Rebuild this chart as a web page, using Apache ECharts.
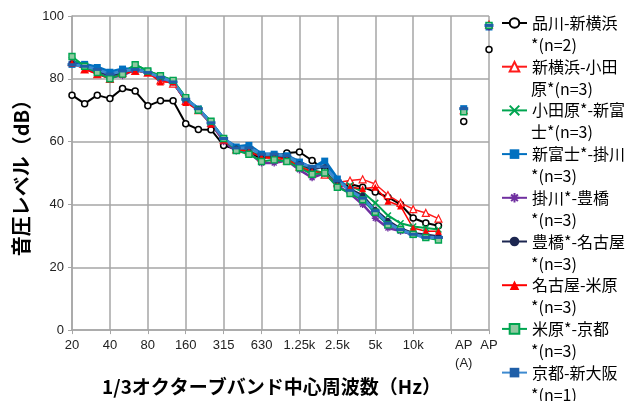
<!DOCTYPE html>
<html><head><meta charset="utf-8">
<script src="https://cdn.jsdelivr.net/npm/echarts@6/dist/echarts.min.js"></script>
<style>html,body{margin:0;padding:0;background:#fff}#c{width:640px;height:401px}</style>
</head><body><div id="c"></div>
<script>
// 1/3 octave band centre frequencies (category axis), then gap, AP(A), gap, AP
const bands = ['20','25','31.5','40','50','63','80','100','125','160','200','250','315','400','500','630','800','1k','1.25k','1.6k','2k','2.5k','3.15k','4k','5k','6.3k','8k','10k','12.5k','16k'];
const extraCats = ['gap1', 'AP\n(A)', 'gap2', 'AP'];
const shownLabels = ['20','40','80','160','315','630','1.25k','2.5k','5k','10k','AP\n(A)','AP'];

// legend labels as wrapped in the original (line 1 / line 2)
const legendLabels = ['品川-新横浜\n*(n=2)','新横浜-小田\n原*(n=3)','小田原*-新富\n士*(n=3)','新富士*-掛川\n*(n=3)','掛川*-豊橋\n*(n=3)','豊橋*-名古屋\n*(n=3)','名古屋-米原\n*(n=3)','米原*-京都\n*(n=3)','京都-新大阪\n*(n=1)'];

const s1 = [74.8,72.1,74.8,73.7,76.9,76.1,71.4,73.0,73.0,65.7,63.9,63.8,58.8,57.5,56.2,54.8,55.2,56.4,56.7,54.0,51.0,45.7,46.5,45.5,44.0,42.3,40.0,35.7,34.1,33.2];
const s2 = [85.5,83.0,81.5,80.0,82.0,82.5,82.0,79.5,78.5,73.0,70.0,66.0,60.5,57.5,57.0,55.0,54.5,54.0,52.0,50.0,49.5,47.0,47.6,48.0,46.5,43.0,40.5,38.5,37.3,35.5];
const s3 = [86.0,84.0,82.0,80.5,82.0,84.5,82.5,81.0,79.5,74.0,70.5,66.5,61.0,58.0,57.0,55.5,55.0,55.0,52.5,51.0,50.0,47.0,46.0,44.0,40.5,36.5,34.0,33.0,32.5,32.0];
const s4 = [84.6,84.6,83.6,82.1,83.1,83.0,82.1,80.5,79.0,73.5,70.4,65.9,60.8,58.3,58.8,56.0,56.0,55.5,53.5,51.5,53.8,48.1,44.6,42.0,37.5,34.0,31.9,30.4,29.9,29.1];
const s5 = [85.0,83.5,82.0,80.5,81.0,83.0,82.0,80.0,79.0,73.0,70.0,66.0,60.0,57.0,56.5,53.2,53.2,54.0,51.0,48.5,50.0,46.0,43.5,40.0,35.6,32.5,31.5,30.5,30.0,29.5];
const s6 = [85.0,84.0,82.5,81.0,82.0,83.0,82.0,80.5,79.0,73.5,70.5,66.0,61.0,58.0,57.0,55.0,55.0,55.0,53.0,51.0,52.0,47.0,45.0,43.0,38.5,35.0,32.5,31.0,30.5,30.0];
const s7 = [85.0,83.0,81.5,80.0,81.5,82.5,82.0,79.0,79.0,72.5,70.0,65.5,60.5,57.5,57.0,55.0,55.0,54.5,52.0,50.5,50.0,46.0,45.5,45.0,45.5,41.0,39.5,32.5,31.5,31.5];
const s8 = [87.1,84.0,82.0,80.0,81.5,84.5,82.5,81.0,79.5,74.0,70.0,66.5,61.0,57.2,56.0,53.7,54.2,53.7,51.7,49.6,50.0,45.5,43.5,41.5,37.5,33.5,32.0,30.5,29.5,28.7];
const s9 = [84.5,84.0,83.0,81.5,82.5,83.0,82.0,80.5,79.0,73.5,70.5,66.0,61.0,58.0,58.0,56.0,56.0,55.5,53.0,52.0,52.0,47.5,44.5,42.0,38.0,34.0,32.0,30.5,29.5,29.5];
const apA = [66.4,70.0,69.5,70.5,70.0,70.0,70.0,69.5,70.5];
const ap  = [89.3,97.3,97.0,96.5,96.5,96.5,97.0,97.0,97.0];
const yTicks = [0,20,40,60,80,100];

const allVals = [s1,s2,s3,s4,s5,s6,s7,s8,s9];
const categories = bands.concat(extraCats);

const styles = [
  {color:'#000000', width:2, symbol:'circle', size:6, fill:'#ffffff', border:'#000000', bw:1.5},
  {color:'#ff1a1a', width:1.5, symbol:'triangle', size:7, fill:'#ffffff', border:'#ff1a1a', bw:1.2},
  {color:'#00a550', width:2, symbol:'path://M0,0L10,10M10,0L0,10', size:6, fill:'none', border:'#00a550', bw:1.5},
  {color:'#0070c0', width:3.5, symbol:'rect', size:7, fill:'#0070c0', border:'#0070c0', bw:0},
  {color:'#7030a0', width:2.5, symbol:'path://M5,0L5,10M0,5L10,5M1.5,1.5L8.5,8.5M8.5,1.5L1.5,8.5', size:7, fill:'none', border:'#7030a0', bw:1.4},
  {color:'#1c2650', width:1.5, symbol:'circle', size:5, fill:'#1c2650', border:'#1c2650', bw:0},
  {color:'#ff0000', width:1.5, symbol:'triangle', size:7, fill:'#ff0000', border:'#ff0000', bw:0},
  {color:'#00a550', width:2, symbol:'rect', size:6, fill:'#8fc9a0', border:'#00a550', bw:1.4},
  {color:'#3d8ad0', width:3, symbol:'rect', size:[9,3], fill:'#1f5fa8', border:'#1f5fa8', bw:0}
];

const series = allVals.map((v, i) => {
  const st = styles[i];
  const data = v.concat(['-', apA[i], '-', ap[i]]);
  return {
    name: legendLabels[i],
    type: 'line',
    data: data,
    symbol: st.symbol,
    symbolSize: st.size,
    showAllSymbol: true,
    connectNulls: false,
    lineStyle: {color: st.color, width: st.width},
    itemStyle: {color: st.fill, borderColor: st.border, borderWidth: st.bw},
    emphasis: {disabled: true},
    animation: false
  };
});

const legendTop = 23, legendPitch = 43.7, legendTextX = 531;
const legends = legendLabels.map((name, i) => ({
  orient: 'vertical',
  left: 501,
  top: legendTop + i * legendPitch - 11,
  padding: 0,
  itemWidth: 25, itemHeight: 12,
  formatter: (n) => n.split('\n')[0],
  textStyle: {fontFamily: 'Noto Sans CJK JP', fontSize: 16, color: '#000', lineHeight: 22},
  data: [name]
}));
const secondLines = legendLabels.map((name, i) => ({
  type: 'text',
  x: legendTextX,
  y: legendTop + i * legendPitch + 22,
  silent: true,
  style: {text: name.split('\n')[1], fontFamily: 'Noto Sans CJK JP', fontSize: 16, fill: '#000', verticalAlign: 'middle', align: 'left'}
}));

const everyThird = (idx) => idx % 3 === 0;

const chart = echarts.init(document.getElementById('c'), null, {renderer: 'canvas'});
chart.setOption({
  backgroundColor: '#ffffff',
  animation: false,
  grid: {left: 72, right: 151, top: 16, bottom: 56, containLabel: false},
  xAxis: {
    type: 'category',
    data: categories,
    boundaryGap: false,
    name: '1/3オクターブバンド中心周波数（Hz）',
    nameLocation: 'middle',
    nameGap: 42,
    nameTextStyle: {fontFamily: 'Noto Sans CJK JP', fontWeight: 'bold', fontSize: 19, color: '#000', padding: [0, 18, 0, 0]},
    axisLine: {lineStyle: {color: '#a6a6a6', width: 1.5}},
    axisTick: {show: true, length: 4, interval: everyThird, lineStyle: {color: '#a6a6a6'}},
    splitLine: {show: true, interval: everyThird, lineStyle: {color: '#a6a6a6', width: 1.5}},
    axisLabel: {
      interval: (idx, val) => shownLabels.indexOf(val) >= 0,
      color: '#222', fontFamily: 'Liberation Sans, Arial, sans-serif', fontSize: 13, margin: 6, lineHeight: 18
    }
  },
  yAxis: {
    type: 'value',
    min: 0, max: 100, interval: 20,
    name: '音圧レベル（dB）',
    nameLocation: 'middle',
    nameGap: 37,
    nameRotate: 90,
    nameTextStyle: {fontFamily: 'Noto Sans CJK JP', fontWeight: 'bold', fontSize: 20, color: '#000'},
    axisLine: {show: true, lineStyle: {color: '#a6a6a6', width: 1.5}},
    axisTick: {show: true, length: 4, lineStyle: {color: '#a6a6a6'}},
    splitLine: {show: true, lineStyle: {color: '#a6a6a6', width: 1.5}},
    axisLabel: {color: '#222', fontFamily: 'Liberation Sans, Arial, sans-serif', fontSize: 13, margin: 8,
      formatter: (v) => yTicks.indexOf(v) >= 0 ? String(v) : ''}
  },
  legend: legends,
  graphic: secondLines,
  series: series
});
</script></body></html>
